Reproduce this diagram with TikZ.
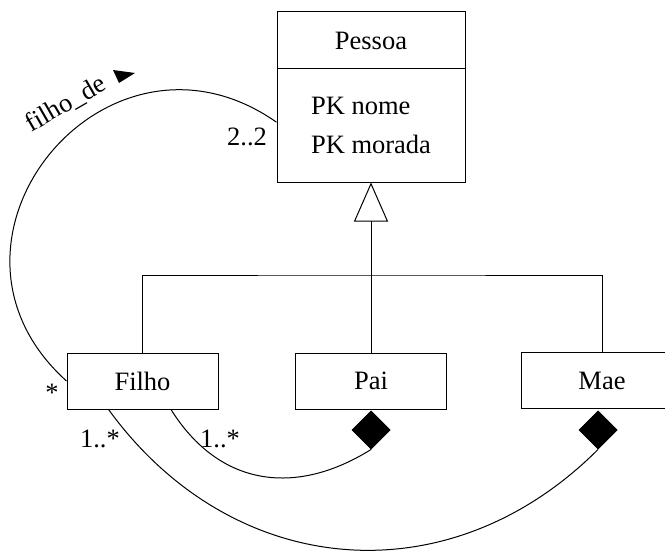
\documentclass[tikz,border=0pt]{standalone}
\usepackage{fontspec}
\setmainfont{Liberation Serif}
\usetikzlibrary{shapes.geometric,arrows.meta}

\begin{document}
\begin{tikzpicture}[x=0.5pt,y=0.5pt,line width=0.5pt,
	font=\fontsize{13.25}{19.5}\selectfont,
	classbox/.style={draw,rectangle,minimum width=75.5pt,minimum height=28pt,inner sep=0pt},
	compos/.style={draw,diamond,fill=black,minimum width=19pt,minimum height=19pt,inner sep=0pt}]
	\useasboundingbox (0,0) rectangle (665,553);
	\node[classbox,minimum width=94pt,minimum height=28.5pt] (pessoa) at (371,512.5) {Pessoa};
	\node[classbox,minimum width=94pt,minimum height=56.5pt,align=left] (attrs) at (371,427.5) {PK nome\\PK morada};
	\node[classbox] (filho) at (142.5,172) {Filho};
	\node[classbox] (pai) at (371,172) {Pai};
	\node[classbox,minimum width=81pt] (mae) at (602,172.5) {Mae};
	\node[compos] (paiagg) at (371,123) {};
	\node[compos] (maeagg) at (598,123) {};
	\coordinate (bar) at (371,278);
	\draw (filho.north) |- (bar) -| (mae.north);
	\draw[-{Triangle[open,length=19.5pt,width=17pt]}] (pai.north) -- (attrs.south);
	\draw (filho.-45) .. controls +(-58:45pt) and +(-148:45pt) .. (paiagg.south);
	\draw (filho.220) to[out=-54,in=-135,looseness=1.1] (maeagg.south);
	\draw (attrs.178) to[out=145,in=138,looseness=1.6] (filho.west);
	\node[anchor=base] (m22) at (247,408) {2..2};
	\node[anchor=base] (mfilho) at (52,152) {*};
	\node[anchor=base] (mpai) at (220,106) {1..*};
	\node[anchor=base] (mmae) at (100,106) {1..*};
	\node[rotate=30] (fdlabel) at (66,449) {filho\_de};
	\fill (113,483) -- (135,480) -- (119,470) -- cycle;
\end{tikzpicture}
\end{document}
